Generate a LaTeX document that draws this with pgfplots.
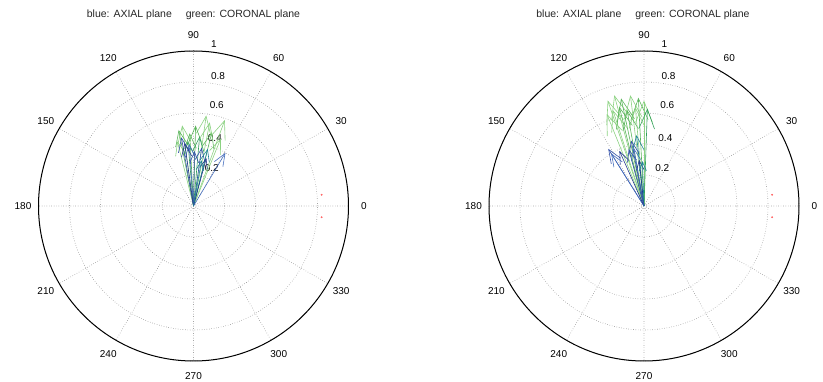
\documentclass[border=0pt]{standalone}
\usepackage{fontspec}
\setmainfont{Liberation Sans}
\usepackage{pgfplots}
\pgfplotsset{compat=1.18}
\usepgfplotslibrary{polar}
\usetikzlibrary{arrows.meta}

\definecolor{axblue}{RGB}{50,80,170}
\definecolor{axnavy}{RGB}{35,55,140}
\definecolor{axsteel}{RGB}{70,110,190}
\definecolor{axteal}{RGB}{30,130,150}
\definecolor{cogreen}{RGB}{90,180,90}
\definecolor{colight}{RGB}{140,210,130}
\definecolor{codark}{RGB}{50,160,90}

% one compass arrow from the origin to (angle, magnitude);
% the head is 20% of the arrow long and 16% of it wide
\newcommand{\cmp}[3]{%
  \pgfmathsetmacro\hl{0.2*#3*155}%
  \pgfmathsetmacro\hw{0.16*#3*155}%
  \edef\doarrow{\noexpand\addplot[#1, line width=0.6pt, -{Straight Barb[length=\hl pt, width=\hw pt]}] coordinates {(0,0) (#2,#3)};}%
  \doarrow}

\pgfplotsset{compass/.style={
  scale only axis, width=310pt, height=310pt, anchor=center, clip=false,
  xmin=0, xmax=360, ymin=0, ymax=1,
  xtick={0,30,...,330}, ytick={0.2,0.4,0.6,0.8,1},
  xticklabels={}, yticklabels={},
  major tick length=0pt,
  grid=major,
  major grid style={dotted, black!55, line width=0.6pt},
  separate axis lines,
  x axis line style={black, line width=1pt},
  y axis line style={draw=none},
  /pgf/number format/assume math mode=true,
  every node/.append style={font=\fontsize{10}{12}\selectfont, text=black!85},
}}

% angle and radius labels
\newcommand{\compasslabels}{%
  \pgfplotsinvokeforeach{0,30,60,90,120,150,180,210,240,270,300,330}{\node[anchor=center] at (axis cs:##1,1.1) {##1};}
  \node at (axis cs:64,0.27) {0.2};
  \node at (axis cs:72.6,0.461) {0.4};
  \node at (axis cs:77,0.668) {0.6};
  \node at (axis cs:79.3,0.85) {0.8};
  \node at (axis cs:82.8,1.054) {1};
}

\begin{document}
\begin{tikzpicture}
\useasboundingbox (0,0) rectangle (823pt,382pt);

\node[font=\fontsize{10.5}{12}\selectfont, text=black!85] at (193.5pt,367pt) {blue: AXIAL plane\hspace{14pt}green: CORONAL plane};
\node[font=\fontsize{10.5}{12}\selectfont, text=black!85] at (643pt,367pt) {blue: AXIAL plane\hspace{14pt}green: CORONAL plane};

% left compass
\begin{polaraxis}[compass, at={(193.5pt,176pt)}]
  \compasslabels
  % coronal plane
  \cmp{colight}{98}{0.525}
  \cmp{cogreen}{93}{0.47}
  \cmp{colight}{82}{0.59}
  \cmp{colight}{70}{0.59}
  \cmp{cogreen}{76}{0.49}
  \cmp{colight}{68}{0.47}
  \cmp{cogreen}{88.5}{0.52}
  \cmp{colight}{104}{0.43}
  \cmp{codark}{85}{0.45}
  \cmp{cogreen}{101}{0.50}
  \cmp{colight}{79}{0.55}
  \cmp{codark}{95}{0.42}
  % axial plane
  \cmp{axblue}{100}{0.45}
  \cmp{axsteel}{94}{0.40}
  \cmp{axblue}{82}{0.38}
  \cmp{axteal}{76}{0.38}
  \cmp{axsteel}{59}{0.40}
  \cmp{axnavy}{75}{0.32}
  \cmp{axblue}{89}{0.355}
  \cmp{axnavy}{98}{0.41}
  \cmp{axteal}{80}{0.30}
  \addplot[only marks, mark=*, mark size=0.7pt, red!60] coordinates {(5,0.83) (355,0.83)};
\end{polaraxis}

% right compass
\begin{polaraxis}[compass, at={(644pt,176pt)}]
  \compasslabels
  % coronal plane
  \cmp{colight}{109}{0.72}
  \cmp{colight}{105}{0.74}
  \cmp{cogreen}{102}{0.71}
  \cmp{colight}{97}{0.72}
  \cmp{cogreen}{93}{0.70}
  \cmp{colight}{90}{0.68}
  \cmp{codark}{88}{0.63}
  \cmp{colight}{108}{0.65}
  \cmp{cogreen}{100}{0.63}
  \cmp{colight}{95}{0.64}
  \cmp{cogreen}{104}{0.66}
  \cmp{colight}{112}{0.64}
  % axial plane
  \cmp{axblue}{122}{0.435}
  \cmp{axsteel}{122}{0.40}
  \cmp{axnavy}{114}{0.39}
  \cmp{axblue}{105}{0.38}
  \cmp{axsteel}{100}{0.38}
  \cmp{axteal}{96}{0.46}
  \cmp{axnavy}{96}{0.30}
  \cmp{axteal}{92}{0.29}
  \cmp{axblue}{101}{0.43}
  \addplot[only marks, mark=*, mark size=0.7pt, red!60] coordinates {(5,0.83) (355,0.83)};
\end{polaraxis}
\end{tikzpicture}
\end{document}
